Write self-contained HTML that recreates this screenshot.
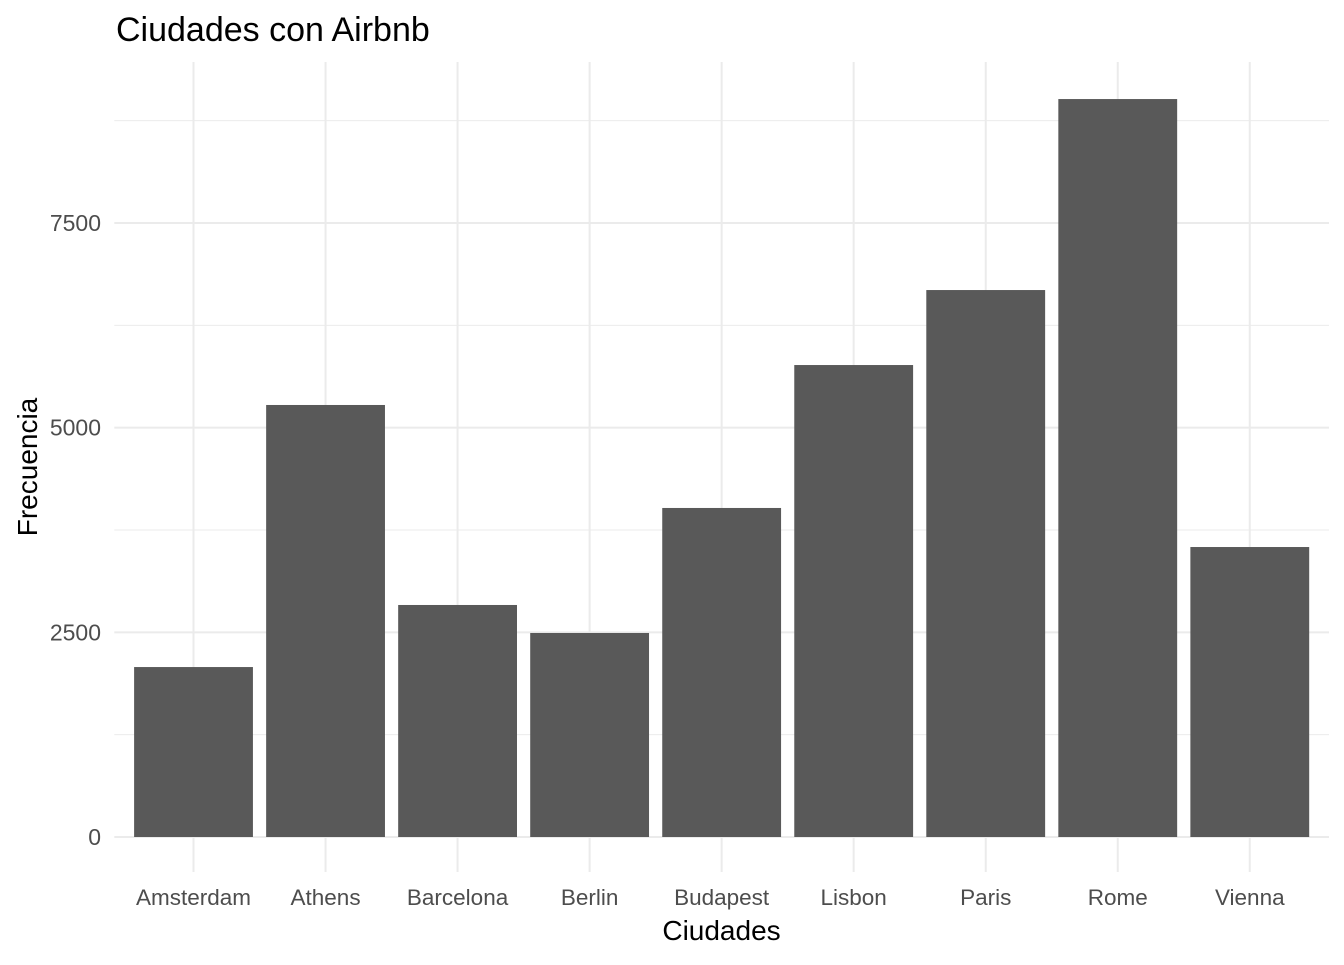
<!DOCTYPE html>
<html><head><meta charset="utf-8"><style>
body{margin:0;background:#fff;}
svg text{font-family:"Liberation Sans",Arial,sans-serif;}
</style></head><body>
<svg id="chart" width="1344" height="960" xmlns="http://www.w3.org/2000/svg"></svg>
<script>
const categories=["Amsterdam","Athens","Barcelona","Berlin","Budapest","Lisbon","Paris","Rome","Vienna"];
const values=[2076,5277,2834,2492,4019,5765,6681,9014,3542];
const yTicks=[0,2500,5000,7500];
const yMinor=[1250,3750,6250,8750];
const svg=document.getElementById('chart');
const NS="http://www.w3.org/2000/svg";
const L=114.3,R=1329,T=62,B=837;
const step=(R-L)/(categories.length+0.2);
const xc=i=>L+step*(i+0.6);
const y=v=>B-v*(204.67/2500);
function mk(tag,attrs,txt){const e=document.createElementNS(NS,tag);for(const k in attrs)e.setAttribute(k,attrs[k]);if(txt!==undefined)e.textContent=txt;svg.appendChild(e);return e;}
yMinor.forEach(v=>{const e=mk('line',{x1:L,x2:R,y1:y(v),y2:y(v),stroke:'#ebebeb','stroke-width':1});

});
yTicks.forEach(v=>{const e=mk('line',{x1:L,x2:R,y1:y(v),y2:y(v),stroke:'#ebebeb','stroke-width':2});


const t=mk('text',{x:101,y:y(v)+8,'text-anchor':'end','font-size':23,fill:'#4d4d4d'},String(v));

});
categories.forEach((c,i)=>{const g=mk('line',{x1:xc(i),x2:xc(i),y1:T,y2:872,stroke:'#ebebeb','stroke-width':2});

});
categories.forEach((c,i)=>{const w=step*0.9;
const r=mk('rect',{x:xc(i)-w/2,y:y(values[i]),width:w,height:B-y(values[i]),fill:'#595959'});


const t=mk('text',{x:xc(i),y:905,'text-anchor':'middle','font-size':22.5,fill:'#4d4d4d'},c);

});
const ti=mk('text',{x:116,y:41,'font-size':34,fill:'#000'},'Ciudades con Airbnb');


const xt=mk('text',{x:721.5,y:940,'text-anchor':'middle','font-size':28,fill:'#000'},'Ciudades');


const yt=mk('text',{x:0,y:0,'text-anchor':'middle','font-size':28,fill:'#000',transform:'translate(37,467) rotate(-90)'},'Frecuencia');


</script>
</body></html>
